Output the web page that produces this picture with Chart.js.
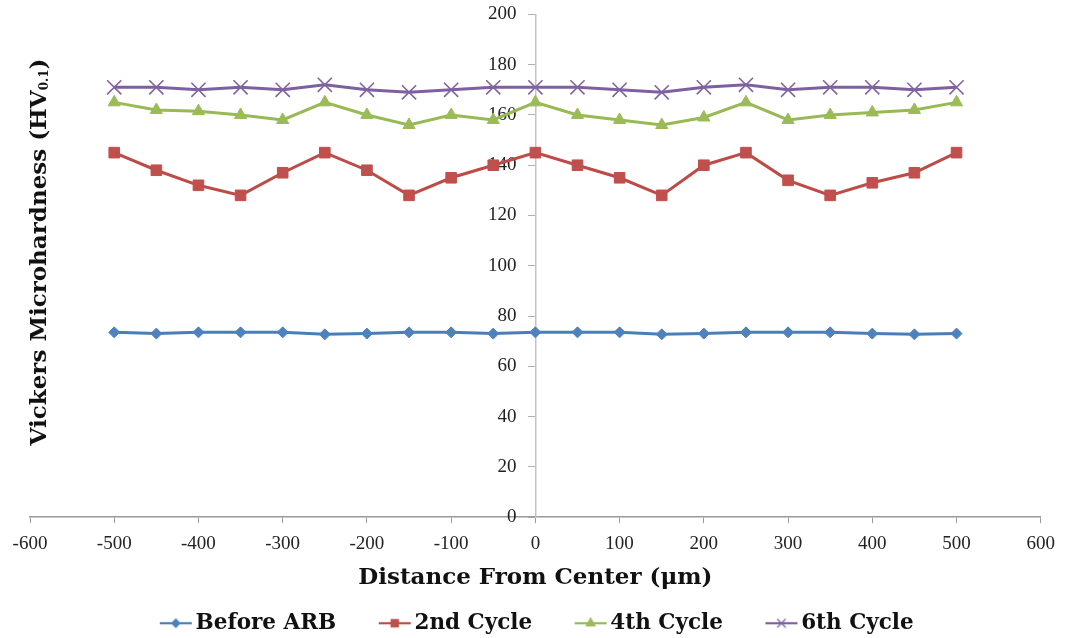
<!DOCTYPE html>
<html>
<head>
<meta charset="utf-8">
<script src="https://cdn.jsdelivr.net/npm/chart.js@4.4.1/dist/chart.umd.min.js"></script>
<style>
  html, body { margin: 0; padding: 0; background: #fff; }
  #wrap { width: 1065px; height: 638px; position: relative; }
</style>
</head>
<body>
<div id="wrap"><canvas id="c"></canvas></div>
<script>
const distances = [-500, -450, -400, -350, -300, -250, -200, -150, -100, -50, 0, 50, 100, 150, 200, 250, 300, 350, 400, 450, 500];
const beforeARB = [73.5, 73, 73.5, 73.5, 73.5, 72.7, 73, 73.5, 73.5, 73, 73.5, 73.5, 73.5, 72.7, 73, 73.5, 73.5, 73.5, 73, 72.7, 73];
const cycle2 = [145, 138, 132, 128, 137, 145, 138, 128, 135, 140, 145, 140, 135, 128, 140, 145, 134, 128, 133, 137, 145];
const cycle4 = [165, 162, 161.5, 160, 158, 165, 160, 156, 160, 158, 165, 160, 158, 156, 159, 165, 158, 160, 161, 162, 165];
const cycle6 = [171, 171, 170, 171, 170, 172, 170, 169, 170, 171, 171, 171, 170, 169, 171, 172, 170, 171, 171, 170, 171];
const seriesNames = ['Before ARB', '2nd Cycle', '4th Cycle', '6th Cycle'];
const xTicks = [-600, -500, -400, -300, -200, -100, 0, 100, 200, 300, 400, 500, 600];
const yTicks = [0, 20, 40, 60, 80, 100, 120, 140, 160, 180, 200];

const lineColors = ['#4a7ebb', '#be4b48', '#98b954', '#7d60a0'];
const markerColors = ['#4f81bd', '#c0504d', '#9bbb59', '#8064a2'];
const markerStyles = ['rectRot', 'rect', 'triangle', 'crossRot'];
const markerRadius = [5.5, 7.5, 7, 10];
const legendRadius = [4, 5, 5, 6];

const BOLD_FONT = '"DejaVu Serif"';
const LEGEND_SIZE = 21.5;
const LEG_BOX = 44;   // legend box width reserved by Chart.js
const LEG_EXT = 9;    // icon overhang on each side of the box
const LEG_LINE = 32;  // drawn sample line length

function legendIcon(i) {
  const cv = document.createElement('canvas');
  cv.width = LEG_BOX + 2 * LEG_EXT; cv.height = 16;
  const ctx = cv.getContext('2d');
  const x2 = LEG_BOX + LEG_EXT + 7;
  const x1 = x2 - LEG_LINE;
  ctx.strokeStyle = lineColors[i];
  ctx.lineWidth = 2.2;
  ctx.beginPath(); ctx.moveTo(x1, 8); ctx.lineTo(x2, 8); ctx.stroke();
  ctx.fillStyle = markerColors[i];
  ctx.strokeStyle = markerColors[i];
  ctx.lineWidth = 1.3;
  Chart.helpers.drawPoint(ctx, { pointStyle: markerStyles[i], radius: legendRadius[i], borderWidth: 1.3, rotation: 0 }, (x1 + x2) / 2, 8);
  return cv;
}

const allSeries = [beforeARB, cycle2, cycle4, cycle6];

const datasets = allSeries.map((ys, i) => ({
  label: seriesNames[i],
  data: distances.map((x, k) => ({ x: x, y: ys[k] })),
  showLine: true,
  borderColor: lineColors[i],
  backgroundColor: markerColors[i],
  borderWidth: 3,
  pointStyle: markerStyles[i],
  pointRadius: markerRadius[i],
  pointBackgroundColor: markerColors[i],
  pointBorderColor: markerColors[i],
  pointBorderWidth: i === 3 ? 1.6 : 1,
  tension: 0
}));

const yTitlePlugin = {
  id: 'yTitle',
  afterDraw(chart) {
    const ctx = chart.ctx;
    ctx.save();
    ctx.translate(40, 252);
    ctx.rotate(-Math.PI / 2);
    const big = 'bold 23px ' + BOLD_FONT;
    const small = 'bold 12px ' + BOLD_FONT;
    const p1 = 'Vickers Microhardness (HV';
    const p2 = '0.1';
    const p3 = ')';
    ctx.font = big; const w1 = ctx.measureText(p1).width; const w3 = ctx.measureText(p3).width;
    ctx.font = small; const w2 = ctx.measureText(p2).width;
    const total = w1 + w2 + w3;
    let x = -total / 2;
    ctx.fillStyle = '#111';
    ctx.textBaseline = 'middle';
    ctx.font = big; ctx.fillText(p1, x, 0); x += w1;
    ctx.font = small; ctx.fillText(p2, x, 5); x += w2;
    ctx.font = big; ctx.fillText(p3, x, 0);
    ctx.restore();
  }
};

Chart.defaults.font.family = '"Liberation Serif", serif';

new Chart(document.getElementById('c'), {
  type: 'scatter',
  data: { datasets: datasets },
  plugins: [yTitlePlugin],
  options: {
    responsive: true,
    maintainAspectRatio: false,
    animation: false,
    layout: { padding: { left: 30, right: 19, top: 13, bottom: -6 } },
    plugins: {
      tooltip: { enabled: false },
      legend: {
        position: 'bottom',
        labels: {
          usePointStyle: true,
          pointStyleWidth: LEG_BOX,
          generateLabels(chart) {
            return seriesNames.map((n, i) => ({
              text: n + '\u2002\u2002',
              pointStyle: legendIcon(i),
              fillStyle: markerColors[i],
              strokeStyle: lineColors[i],
              lineWidth: 0,
              datasetIndex: i,
              hidden: false,
              fontColor: '#111'
            }));
          },
          font: { family: BOLD_FONT, size: LEGEND_SIZE, weight: 'bold' },
          color: '#111',
          padding: 2
        }
      }
    },
    scales: {
      x: {
        type: 'linear',
        position: 'bottom',
        min: -600, max: 600,
        afterBuildTicks(scale) { scale.ticks = xTicks.map(v => ({ value: v })); },
        ticks: { font: { size: 19 }, color: '#222', padding: 10, maxRotation: 0 },
        grid: { drawOnChartArea: false, drawTicks: true, tickLength: 6, color: '#9a9a9a' },
        border: { color: '#9a9a9a', width: 1.5 },
        title: {
          display: true,
          text: 'Distance From Center (μm)',
          font: { family: BOLD_FONT, size: 23, weight: 'bold' },
          color: '#111',
          padding: { top: -2, bottom: 19 }
        }
      },
      y: {
        type: 'linear',
        position: { x: 0 },
        min: 0, max: 200,
        afterBuildTicks(scale) { scale.ticks = yTicks.map(v => ({ value: v })); },
        ticks: {
          font: { size: 19 }, color: '#222',
          callback: (v) => String(v) + '\u2002\u2002'
        },
        grid: { drawOnChartArea: false, drawTicks: true, tickLength: 7, color: '#b0b0b0' },
        border: { color: '#c4c4c4', width: 1.5 }
      }
    }
  }
});
</script>
</body>
</html>
